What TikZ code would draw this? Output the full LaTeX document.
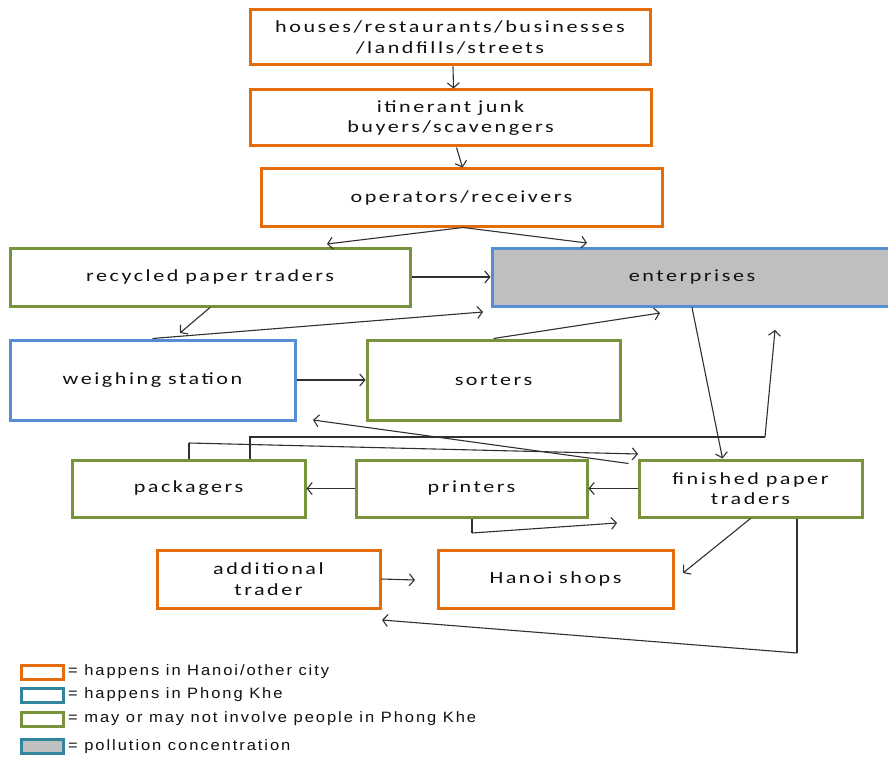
\documentclass[tikz,border=0pt]{standalone}
\usepackage{fontspec}
\usetikzlibrary{arrows.meta,calc}
\newfontfamily\boxfont{Carlito}[FakeStretch=1.3,LetterSpace=15,WordSpace=0.9]
\newfontfamily\legfont{Liberation Sans}[FakeStretch=1.1,LetterSpace=13]
\definecolor{orng}{HTML}{E46C0A}
\definecolor{grn}{HTML}{77933C}
\definecolor{blu}{HTML}{558ED5}
\definecolor{teal}{HTML}{31859C}
\definecolor{gry}{HTML}{BFBFBF}
\definecolor{txt}{HTML}{111111}
\definecolor{ln}{HTML}{303030}
\tikzset{
  box/.style={draw, line width=3pt, fill=white, rectangle, inner sep=0pt, align=center,
    font=\boxfont\fontsize{17}{20.5}\selectfont, text=txt},
  obox/.style={box, draw=orng},
  gbox/.style={box, draw=grn},
  bbox/.style={box, draw=blu},
  arr/.style={draw=ln, line width=1.1pt, -{Straight Barb[length=5pt,width=12pt]}},
  ln2/.style={draw=ln, line width=1.8pt},
  legbox/.style={draw, line width=3pt, rectangle, minimum width=42pt, minimum height=14pt, inner sep=0pt},
  legtext/.style={anchor=west, inner sep=0pt, font=\legfont\fontsize{15}{16}\selectfont, text=txt}
}
\begin{document}
\begin{tikzpicture}[x=1pt,y=-1pt]
\clip (0,0) rectangle (888,762);
\fill[white] (0,0) rectangle (888,762);
% boxes
\node[obox, minimum width=400pt, minimum height=55pt] (n1) at (450,37.5) {houses/restaurants/businesses\\/landfills/streets};
\node[obox, minimum width=401pt, minimum height=56pt] (n2) at (450.5,118) {itinerant junk\\buyers/scavengers};
\node[obox, minimum width=401pt, minimum height=57pt] (n3) at (461.5,197.5) {operators/receivers};
\node[gbox, minimum width=400pt, minimum height=58pt] (n4) at (210,277) {recycled paper traders};
\node[bbox, fill=gry, minimum width=400pt, minimum height=58pt] (n5) at (692,277) {enterprises};
\node[bbox, minimum width=285pt, minimum height=80pt] (n6) at (152.5,380) {weighing station};
\node[gbox, minimum width=253pt, minimum height=80pt] (n7) at (493.5,380) {sorters};
\node[gbox, minimum width=233pt, minimum height=57pt] (n8) at (188.5,488.5) {packagers};
\node[gbox, minimum width=231pt, minimum height=57pt] (n9) at (471.5,488.5) {printers};
\node[gbox, minimum width=223pt, minimum height=57pt] (n10) at (750.5,488.5) {finished paper\\traders};
\node[obox, minimum width=223pt, minimum height=58pt] (n11) at (268.5,579) {additional\\trader};
\node[obox, minimum width=235pt, minimum height=58pt] (n12) at (555.5,579) {Hanoi shops};
% free ends and bends
\coordinate (t3a) at (327,244);
\coordinate (t3b) at (587,243);
\coordinate (t6) at (180,333);
\coordinate (t5a) at (483,312);
\coordinate (t5b) at (660,313);
\coordinate (b1) at (250,437);
\coordinate (b2) at (765,437);
\coordinate (t5c) at (775,330);
\coordinate (c1) at (189,443);
\coordinate (t10a) at (638,454);
\coordinate (t6b) at (313,420);
\coordinate (d1) at (472,533);
\coordinate (t10b) at (617,523);
\coordinate (t12) at (683,573);
\coordinate (e1) at (797,653);
\coordinate (t11) at (382,620);
\coordinate (t12b) at (415,580);
% connectors
\draw[arr] ([xshift=3pt]n1.south) -- ([xshift=3pt]n2.north);
\draw[arr] ([xshift=6pt]n2.south) -- ([xshift=1pt]n3.north);
\draw[arr] ([xshift=1.5pt]n3.south) -- (t3a);
\draw[arr] ([xshift=1.5pt]n3.south) -- (t3b);
\draw[arr] (n4.east) -- (n5.west);
\draw[arr] (n4.south) -- (t6);
\draw[arr] (n6.north) -- (t5a);
\draw[arr] (n7.north) -- (t5b);
\draw[arr] (n6.east) -- (n7.west);
\draw[arr] (n5.south) -- ([xshift=-28pt]n10.north);
\draw[ln2] (n8.north -| b1) -- (b1) -- (b2);
\draw[arr] (b2) -- (t5c);
\draw[ln2] (n8.north -| c1) -- (c1);
\draw[arr] (c1) -- (t10a);
\draw[arr] ([xshift=-9pt,yshift=-5pt]n10.north west) -- (t6b);
\draw[arr] (n10.west) -- (n9.east);
\draw[arr] (n9.west) -- (n8.east);
\draw[ln2] (n9.south -| d1) -- (d1);
\draw[arr] (d1) -- (t10b);
\draw[arr] (n10.south) -- (t12);
\draw[ln2] (n10.south -| e1) -- (e1);
\draw[arr] (e1) -- (t11);
\draw[arr] (n11.east) -- (t12b);
% legend
\node[legbox, draw=orng, fill=white] (l1) at (42.5,672) {};
\node[legbox, draw=teal, fill=white] (l2) at (42.5,695) {};
\node[legbox, draw=grn, fill=white] (l3) at (42.5,719) {};
\node[legbox, draw=teal, fill=gry] (l4) at (42.5,746.5) {};
\node[legtext] (lt1) at (68,672) {= happens in Hanoi/other city};
\node[legtext] (lt2) at (68,695) {= happens in Phong Khe};
\node[legtext] (lt3) at (68,719) {= may or may not involve people in Phong Khe};
\node[legtext] (lt4) at (68,746.5) {= pollution concentration};
\end{tikzpicture}
\end{document}
